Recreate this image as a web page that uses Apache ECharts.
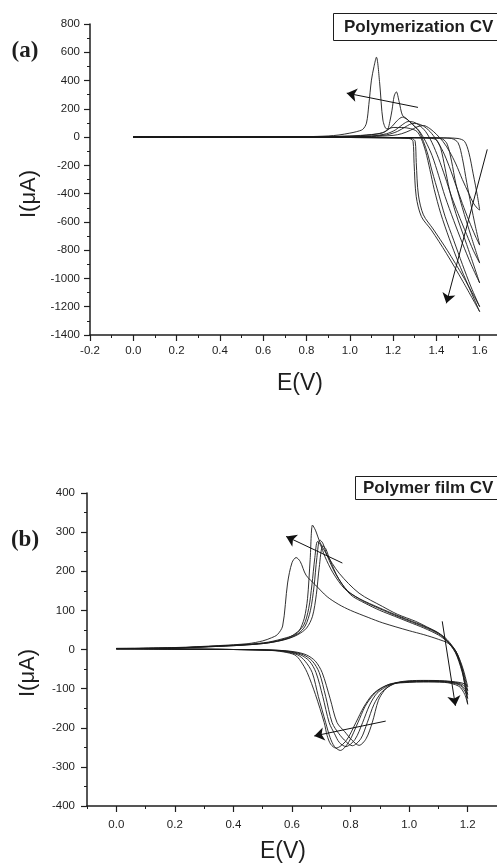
<!DOCTYPE html>
<html>
<head>
<meta charset="utf-8">
<title>Polymerization CV / Polymer film CV</title>
<script src="https://cdn.jsdelivr.net/npm/echarts@6/dist/echarts.min.js"></script>
<style>
html, body { margin: 0; padding: 0; background: #fff; }
#main { width: 497px; height: 866px; }
</style>
</head>
<body>
<div id="main"></div>
<script>
// ---- (a) polymerization CV : forward 0 -> 1.6 V, reverse 1.6 -> 0 V ----
const polyFwd1 = [[0,0],[0.5,-2],[1.0,-3],[1.3,-4],[1.45,-6],[1.5,-10],[1.53,-30],[1.55,-110],[1.57,-260],[1.59,-420],[1.6,-516]]
const polyRev1 = [[1.6,-516],[1.59,-505],[1.57,-465],[1.55,-400],[1.52,-300],[1.49,-190],[1.46,-100],[1.43,-30],[1.4,20],[1.37,60],[1.34,82],[1.31,72],[1.28,48],[1.24,24],[1.2,12],[1.1,4],[1.0,2],[0.5,1],[0,0]]
const polyFwd2 = [[0,0],[1.0,-3],[1.3,-4],[1.42,-6],[1.47,-10],[1.5,-40],[1.52,-150],[1.54,-320],[1.56,-480],[1.58,-630],[1.6,-764]]
const polyRev2 = [[1.6,-764],[1.58,-700],[1.55,-590],[1.52,-470],[1.49,-340],[1.46,-210],[1.43,-100],[1.4,-20],[1.37,40],[1.34,78],[1.31,95],[1.29,96],[1.26,75],[1.22,40],[1.17,16],[1.08,5],[0.9,2],[0,0]]
const polyFwd3 = [[0,0],[1.0,-3],[1.3,-5],[1.4,-8],[1.43,-15],[1.45,-50],[1.47,-170],[1.49,-330],[1.52,-500],[1.56,-700],[1.6,-891]]
const polyRev3 = [[1.6,-891],[1.57,-800],[1.54,-690],[1.5,-540],[1.47,-420],[1.44,-280],[1.41,-150],[1.38,-40],[1.35,40],[1.32,85],[1.295,106],[1.27,110],[1.245,90],[1.21,50],[1.17,24],[1.1,8],[0.9,2],[0,0]]
const polyFwd4 = [[0,0],[1.0,-3],[1.3,-5],[1.37,-8],[1.4,-20],[1.42,-80],[1.44,-220],[1.46,-370],[1.49,-540],[1.54,-760],[1.6,-1032]]
const polyRev4 = [[1.6,-1032],[1.56,-900],[1.52,-750],[1.48,-590],[1.44,-420],[1.41,-270],[1.38,-130],[1.35,-30],[1.32,45],[1.29,90],[1.265,125],[1.243,141],[1.22,118],[1.19,68],[1.15,30],[1.05,10],[0.9,3],[0,0]]
const polyFwd5 = [[0,0],[1.0,-3],[1.2,-5],[1.27,-8],[1.29,-12],[1.302,-30],[1.307,-180],[1.317,-410],[1.34,-550],[1.385,-650],[1.45,-800],[1.525,-990],[1.6,-1200]]
const polyRev5 = [[1.6,-1200],[1.56,-1060],[1.52,-900],[1.48,-730],[1.44,-560],[1.41,-400],[1.38,-240],[1.36,-120],[1.34,-30],[1.32,40],[1.29,90],[1.261,132],[1.243,155],[1.228,250],[1.215,320],[1.205,290],[1.195,190],[1.185,110],[1.175,55],[1.15,30],[1.1,18],[1.0,8],[0.8,2],[0,0]]
const polyFwd6 = [[0,0],[1.0,-3],[1.2,-5],[1.26,-8],[1.28,-12],[1.292,-30],[1.297,-186],[1.307,-422],[1.331,-563],[1.377,-658],[1.446,-822],[1.523,-1023],[1.6,-1235]]
const polyRev6 = [[1.6,-1235],[1.55,-1060],[1.5,-880],[1.46,-720],[1.42,-540],[1.39,-370],[1.37,-230],[1.35,-100],[1.33,-10],[1.31,40],[1.28,60],[1.24,68],[1.2,68],[1.18,60],[1.17,58],[1.153,120],[1.138,382],[1.123,565],[1.112,500],[1.1,403],[1.088,230],[1.077,99],[1.06,55],[1.03,38],[1.0,28],[0.95,15],[0.9,8],[0.8,3],[0.6,1],[0,0]]

// ---- (b) polymer film CV : forward 0 -> 1.2 V, reverse 1.2 -> 0 V ----
const filmFwd1 = [[0,2],[0.2,4],[0.35,8],[0.45,12],[0.52,17],[0.58,26],[0.62,38],[0.65,55],[0.67,85],[0.683,140],[0.693,210],[0.705,265],[0.715,258],[0.73,228],[0.76,180],[0.8,140],[0.85,118],[0.9,100],[0.95,85],[1.0,70],[1.05,55],[1.1,37],[1.13,20],[1.16,-5],[1.18,-40],[1.19,-65],[1.2,-95]]
const filmRev1 = [[1.2,-95],[1.19,-88],[1.17,-84],[1.12,-80],[1.05,-79],[1.0,-80],[0.96,-84],[0.935,-92],[0.915,-105],[0.895,-130],[0.874,-187],[0.853,-228],[0.829,-245],[0.805,-232],[0.78,-210],[0.754,-187],[0.73,-125],[0.703,-59],[0.68,-30],[0.65,-14],[0.61,-6],[0.55,-2],[0.4,0],[0.2,1],[0,2]]
const filmFwd2 = [[0,2],[0.2,4],[0.35,8],[0.45,12],[0.52,17],[0.58,27],[0.62,40],[0.645,60],[0.663,100],[0.675,160],[0.685,235],[0.695,280],[0.705,272],[0.72,240],[0.75,192],[0.79,150],[0.84,125],[0.9,104],[0.95,88],[1.0,73],[1.05,58],[1.1,40],[1.13,22],[1.16,-5],[1.18,-45],[1.19,-72],[1.2,-105]]
const filmRev2 = [[1.2,-105],[1.19,-94],[1.17,-86],[1.12,-81],[1.05,-80],[1.0,-81],[0.96,-85],[0.93,-95],[0.905,-110],[0.88,-140],[0.857,-187],[0.835,-228],[0.806,-246],[0.785,-236],[0.76,-215],[0.737,-187],[0.715,-120],[0.693,-59],[0.67,-30],[0.64,-14],[0.6,-6],[0.55,-2],[0.4,0],[0.2,1],[0,2]]
const filmFwd3 = [[0,2],[0.2,4],[0.35,9],[0.45,13],[0.52,18],[0.58,28],[0.61,40],[0.64,62],[0.657,105],[0.668,165],[0.678,235],[0.687,276],[0.697,268],[0.712,238],[0.74,196],[0.78,155],[0.83,130],[0.9,106],[0.95,90],[1.0,75],[1.05,60],[1.1,42],[1.13,25],[1.16,-6],[1.18,-50],[1.19,-80],[1.2,-115]]
const filmRev3 = [[1.2,-115],[1.19,-100],[1.17,-88],[1.12,-82],[1.05,-81],[1.0,-82],[0.95,-86],[0.92,-96],[0.89,-112],[0.865,-142],[0.841,-187],[0.815,-230],[0.784,-248],[0.762,-238],[0.745,-215],[0.727,-187],[0.705,-120],[0.682,-59],[0.66,-30],[0.63,-14],[0.59,-6],[0.54,-2],[0.4,0],[0.2,1],[0,2]]
const filmFwd4 = [[0,2],[0.2,4],[0.35,9],[0.45,13],[0.52,19],[0.58,30],[0.61,38],[0.625,48],[0.642,80],[0.653,130],[0.662,230],[0.67,318],[0.68,305],[0.695,275],[0.716,246],[0.761,195],[0.829,144],[0.909,110],[0.96,90],[1.022,72],[1.06,58],[1.101,42],[1.13,22],[1.158,-8],[1.18,-55],[1.19,-88],[1.2,-125]]
const filmRev4 = [[1.2,-125],[1.19,-106],[1.17,-90],[1.12,-83],[1.05,-82],[1.0,-83],[0.94,-87],[0.91,-97],[0.88,-114],[0.85,-145],[0.825,-187],[0.795,-235],[0.765,-258],[0.745,-248],[0.73,-225],[0.715,-187],[0.69,-120],[0.669,-59],[0.645,-30],[0.62,-14],[0.58,-6],[0.53,-2],[0.4,0],[0.2,1],[0,2]]
const filmFwd5 = [[0,3],[0.2,5],[0.35,10],[0.45,15],[0.5,22],[0.53,30],[0.55,38],[0.568,60],[0.585,170],[0.6,222],[0.614,235],[0.628,225],[0.648,190],[0.68,165],[0.72,135],[0.76,115],[0.8,100],[0.86,82],[0.91,68],[1.0,48],[1.05,38],[1.1,26],[1.135,15],[1.16,-10],[1.18,-50],[1.19,-90],[1.2,-140]]
const filmRev5 = [[1.2,-140],[1.19,-115],[1.17,-94],[1.12,-84],[1.05,-83],[1.0,-84],[0.94,-88],[0.905,-98],[0.875,-115],[0.845,-147],[0.818,-187],[0.785,-233],[0.75,-252],[0.732,-242],[0.72,-220],[0.71,-187],[0.68,-115],[0.652,-59],[0.63,-30],[0.61,-14],[0.57,-6],[0.52,-2],[0.4,0],[0.2,1],[0,2]]

// arrows drawn in the plots, [tail, head] in data units
const arrowsA = [[[1.315, 210], [0.986, 311]], [[1.635, -87], [1.446, -1176]]]
const arrowsB = [[[0.772, 221], [0.580, 289]], [[0.920, -183], [0.676, -221]], [[1.113, 72], [1.158, -144]]]

// tick values
const xMajorA = [-0.2, 0, 0.2, 0.4, 0.6, 0.8, 1.0, 1.2, 1.4, 1.6]
const xMinorA = [-0.1, 0.1, 0.3, 0.5, 0.7, 0.9, 1.1, 1.3, 1.5]
const yTicksA = [-1400, -1200, -1000, -800, -600, -400, -200, 0, 200, 400, 600, 800]
const xMajorB = [0, 0.2, 0.4, 0.6, 0.8, 1.0, 1.2]
const xMinorB = [-0.1, 0.1, 0.3, 0.5, 0.7, 0.9, 1.1]
const yTicksB = [-400, -300, -200, -100, 0, 100, 200, 300, 400]

const FONT = '"Liberation Sans", Arial, Helvetica, sans-serif'
const INK = '#1e1e1e'

const curve = (data, xi, yi) => ({
  type: 'line', data: data, xAxisIndex: xi, yAxisIndex: yi,
  symbol: 'none', smooth: 0.3, silent: true,
  lineStyle: {color: '#1a1a1a', width: 0.9}
})

const arrowSeries = (list, xi, yi, dummy) => ({
  type: 'line', data: [dummy], xAxisIndex: xi, yAxisIndex: yi, symbol: 'none',
  lineStyle: {width: 0}, silent: true,
  markLine: {
    silent: true, animation: false,
    symbol: ['none', 'arrow'], symbolSize: 10,
    label: {show: false},
    lineStyle: {color: '#111', width: 1, type: 'solid'},
    emphasis: {disabled: true},
    data: list.map(a => [{coord: a[0]}, {coord: a[1]}])
  }
})

const xMajor = (grid, min, max, ticks, margin) => ({
  gridIndex: grid, type: 'value', position: 'bottom', min: min, max: max,
  axisLine: {show: true, onZero: false, lineStyle: {color: INK, width: 1.5}},
  axisTick: {show: true, length: 6, customValues: ticks, lineStyle: {color: INK, width: 1.2}},
  axisLabel: {customValues: ticks, margin: margin, fontSize: 11.5, color: INK, fontFamily: FONT,
    formatter: v => v.toFixed(1)},
  splitLine: {show: false}
})

const xMinor = (grid, min, max, ticks) => ({
  gridIndex: grid, type: 'value', position: 'bottom', min: min, max: max,
  axisLine: {show: false, onZero: false},
  axisTick: {show: true, length: 3, customValues: ticks, lineStyle: {color: INK, width: 1}},
  axisLabel: {show: false},
  splitLine: {show: false}
})

const yAxisOf = (grid, min, max, step, ticks, margin) => ({
  gridIndex: grid, type: 'value', min: min, max: max, interval: step,
  axisLine: {show: true, onZero: false, lineStyle: {color: INK, width: 1.5}},
  axisTick: {show: true, length: 6, customValues: ticks, lineStyle: {color: INK, width: 1.2}},
  minorTick: {show: true, splitNumber: 2, length: 3, lineStyle: {color: INK, width: 1}},
  axisLabel: {customValues: ticks, margin: margin, fontSize: 11.5, color: INK, fontFamily: FONT,
    formatter: v => String(v)},
  splitLine: {show: false},
  minorSplitLine: {show: false}
})

const txt = (x, y, text, font, rot, align) => ({
  type: 'text', x: x, y: y, rotation: rot || 0, silent: true,
  style: {text: text, font: font, fill: INK,
    align: align || 'center', verticalAlign: 'middle',
    textAlign: align || 'center', textVerticalAlign: 'middle'}
})

const seriesA = [polyFwd1, polyRev1, polyFwd2, polyRev2, polyFwd3, polyRev3,
  polyFwd4, polyRev4, polyFwd5, polyRev5, polyFwd6, polyRev6].map(d => curve(d, 0, 0))
const seriesB = [filmFwd1, filmRev1, filmFwd2, filmRev2, filmFwd3, filmRev3,
  filmFwd4, filmRev4, filmFwd5, filmRev5].map(d => curve(d, 2, 1))

const myChart = echarts.init(document.getElementById('main'), null, {renderer: 'canvas'})
const option = {
  animation: false,
  backgroundColor: '#fff',
  grid: [
    {left: 90, top: 24, width: 407, height: 311, outerBoundsMode: 'none'},
    {left: 87, top: 493, width: 410, height: 313, outerBoundsMode: 'none'}
  ],
  xAxis: [
    xMajor(0, -0.2, 1.68, xMajorA, 10),
    xMinor(0, -0.2, 1.68, xMinorA),
    xMajor(1, -0.1, 1.3, xMajorB, 13),
    xMinor(1, -0.1, 1.3, xMinorB)
  ],
  yAxis: [
    yAxisOf(0, -1400, 800, 200, yTicksA, 10),
    yAxisOf(1, -400, 400, 100, yTicksB, 12)
  ],
  series: seriesA.concat(seriesB, [
    arrowSeries(arrowsA, 0, 0, [0, 0]),
    arrowSeries(arrowsB, 2, 1, [0, 2])
  ]),
  graphic: [
    {type: 'rect', silent: true, shape: {x: 333.5, y: 13.5, width: 170, height: 27},
      style: {fill: '#fff', stroke: INK, lineWidth: 1}},
    txt(344, 27, 'Polymerization CV', 'bold 17px ' + FONT, 0, 'left'),
    {type: 'rect', silent: true, shape: {x: 355.5, y: 476.5, width: 150, height: 23},
      style: {fill: '#fff', stroke: INK, lineWidth: 1}},
    txt(363, 488, 'Polymer film CV', 'bold 17px ' + FONT, 0, 'left'),
    txt(25, 51, '(a)', 'bold 23px "Liberation Serif", "Times New Roman", serif'),
    txt(25, 540, '(b)', 'bold 23px "Liberation Serif", "Times New Roman", serif'),
    txt(29, 194, 'I(μA)', '22px ' + FONT, Math.PI / 2),
    txt(28, 673, 'I(μA)', '22px ' + FONT, Math.PI / 2),
    txt(300, 384, 'E(V)', '23px ' + FONT),
    txt(283, 852, 'E(V)', '23px ' + FONT)
  ]
}
option && myChart.setOption(option)
</script>
</body>
</html>
